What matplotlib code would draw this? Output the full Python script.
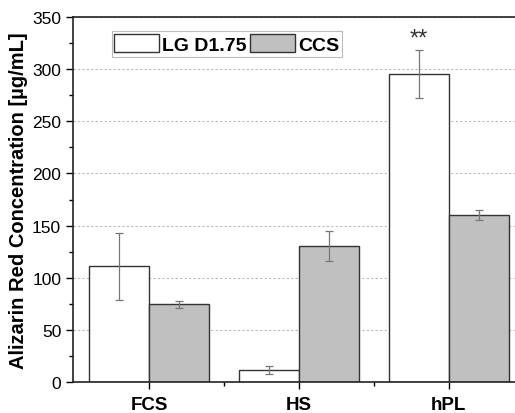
import matplotlib
matplotlib.use('Agg')
import matplotlib.pyplot as plt
import numpy as np
from matplotlib.ticker import MultipleLocator, FixedLocator

plt.rcParams['font.family'] = ['Liberation Sans', 'DejaVu Sans']

# data
categories = ['FCS', 'HS', 'hPL']
series = ['LG D1.75', 'CCS']
lg_values = [111, 11.5, 295]
lg_errors = [32, 4, 23]
ccs_values = [74.5, 130.5, 160]
ccs_errors = [3.2, 14, 5]
star_labels = ['', '', '**']

fig = plt.figure(figsize=(5.15, 4.14), dpi=100)
ax = fig.add_axes([73 / 515, 31 / 414, 443 / 515, 365 / 414])

x = np.arange(len(categories))
width = 0.4
err_kw = dict(ecolor='#777777', elinewidth=0.9, capsize=3, capthick=0.9)

ax.bar(x - width / 2, lg_values, width, yerr=lg_errors, color='white',
       edgecolor='#333333', linewidth=1.0, label=series[0], zorder=2,
       error_kw=err_kw)
ax.bar(x + width / 2, ccs_values, width, yerr=ccs_errors, color='#c0c0c0',
       edgecolor='#333333', linewidth=1.0, label=series[1], zorder=2,
       error_kw=err_kw)

for i, s in enumerate(star_labels):
    if s:
        ax.text(x[i] - width / 2, lg_values[i] + lg_errors[i] + 1, s,
                ha='center', va='bottom', fontsize=17, color='#333333')

ax.set_xlim(-0.507, 2.45)
ax.set_ylim(0, 350)
ax.set_yticks(np.arange(0, 351, 50))
ax.yaxis.set_minor_locator(MultipleLocator(25))
ax.set_xticks(x)
ax.set_xticklabels(categories, fontsize=13.5, fontweight='bold')
ax.xaxis.set_minor_locator(FixedLocator([0.5, 1.5]))
ax.tick_params(axis='y', labelsize=12.5, direction='out', length=5, width=1)
ax.tick_params(axis='y', which='minor', direction='out', length=3, width=1)
ax.tick_params(axis='x', direction='out', length=5, width=1, pad=5)
ax.tick_params(axis='x', which='minor', direction='out', length=3, width=1)

ax.grid(axis='y', linestyle=(0, (2, 2)), color='#bbbbbb', linewidth=0.8,
        zorder=0)

ax.set_ylabel('Alizarin Red Concentration [\u00b5g/mL]', fontsize=14.5,
              fontweight='bold', labelpad=3)

for side in ['left', 'bottom', 'top']:
    ax.spines[side].set_linewidth(1.2)
    ax.spines[side].set_color('#222222')
ax.spines['right'].set_visible(False)

leg = ax.legend(loc='upper left', bbox_to_anchor=(0.087, 0.962), ncol=2,
                frameon=True, fancybox=False, edgecolor='#aaaaaa',
                prop={'weight': 'bold', 'size': 14}, handlelength=2.3,
                handleheight=1.1, handletextpad=0.15, columnspacing=0.2,
                borderpad=0.15, borderaxespad=0.0)
leg.get_frame().set_linewidth(0.8)

fig.savefig('out.png', dpi=100)
